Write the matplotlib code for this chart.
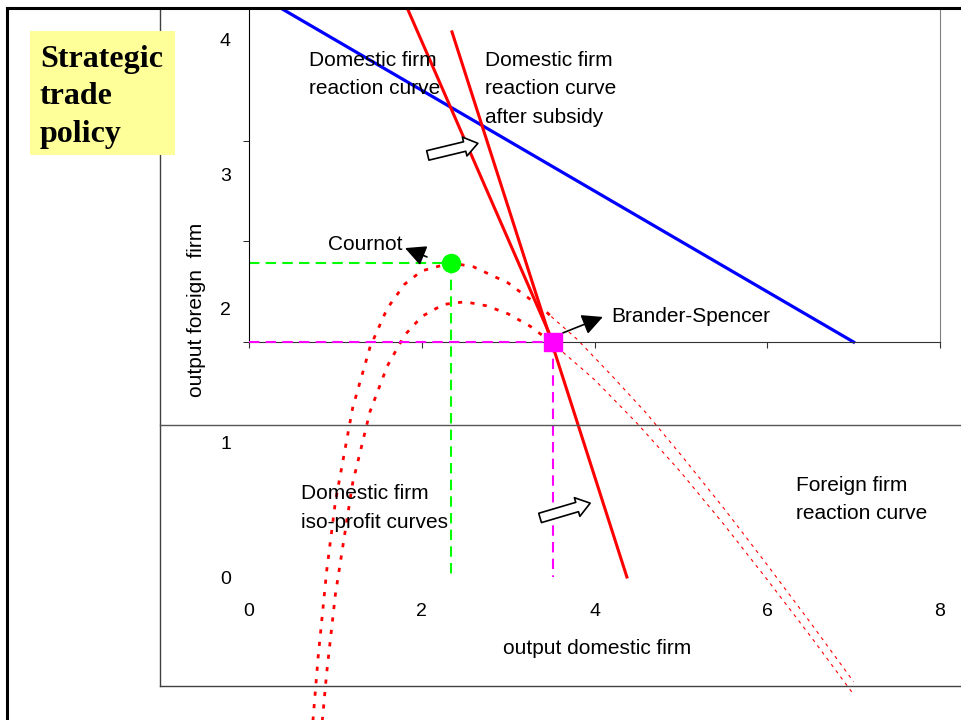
import matplotlib
matplotlib.use("Agg")
import matplotlib.pyplot as plt
from matplotlib.lines import Line2D
from matplotlib.patches import Rectangle, FancyArrowPatch, ArrowStyle

plt.rcParams['font.family'] = ['Liberation Sans', 'DejaVu Sans']

# reaction curves (output domestic firm, output foreign firm)
domestic_x = [1.83, 3.52]
domestic_y = [4.24, 1.75]
subsidy_x = [2.35, 4.375]
subsidy_y = [4.06, 0.0]
foreign_x = [0.36, 7.0]
foreign_y = [4.24, 1.75]

# equilibria
cournot_x, cournot_y = 2.34, 2.34
brander_x, brander_y = 3.52, 1.75

# domestic iso-profit curves
iso1_x = [0.74, 0.8, 0.9, 1.0, 1.2, 1.4, 1.6, 1.8, 2.0, 2.34, 2.6, 3.0, 3.4, 3.5]
iso1_y = [-1.07, -0.6, 0.05, 0.56, 1.26, 1.71, 2.0, 2.18, 2.28, 2.34, 2.31, 2.19, 2.0, 1.94]
iso1_tail_x = [3.5, 3.8, 4.2, 4.6, 5.0, 5.5, 6.0, 6.5, 7.0]
iso1_tail_y = [1.94, 1.77, 1.50, 1.22, 0.91, 0.51, 0.09, -0.34, -0.78]
iso2_x = [0.84, 0.9, 1.0, 1.2, 1.4, 1.6, 1.8, 2.0, 2.25, 2.5, 2.75, 3.0, 3.25, 3.5]
iso2_y = [-1.13, -0.71, -0.13, 0.70, 1.23, 1.57, 1.80, 1.94, 2.03, 2.05, 2.02, 1.96, 1.87, 1.75]
iso2_tail_x = [3.5, 4.0, 4.5, 5.0, 5.5, 6.0, 6.5, 7.0]
iso2_tail_y = [1.75, 1.47, 1.14, 0.78, 0.39, -0.02, -0.44, -0.875]

x_ticks = [0, 2, 4, 6, 8]
y_ticks = [0, 1, 2, 3, 4]
y_marks = [1.75, 2.5, 3.25, 4.0]

W, H = 961, 720
fig = plt.figure(figsize=(W / 100, H / 100), dpi=100)

# slide frame lines
def fline(xs, ys, **kw):
    fig.add_artist(Line2D([x / W for x in xs], [1 - y / H for y in ys],
                          transform=fig.transFigure, **kw))

fline([160, 160], [8, 686], color='#404040', lw=1, zorder=1)
fline([160, 961], [425, 425], color='#555555', lw=1, zorder=1)
fline([160, 961], [686, 686], color='#404040', lw=1, zorder=1)
fline([7, 7], [8, 720], color='black', lw=2.2, zorder=5)
fline([7, 961], [8, 8], color='black', lw=2.2, zorder=5)

fig.add_artist(Rectangle((30 / W, 1 - 155 / H), 145 / W, 124 / H,
                         transform=fig.transFigure, facecolor='#FFFF99',
                         edgecolor='none', zorder=3))
fig.text(40 / W, 1 - 45 / H, 'Strategic\ntrade\npolicy', family='Liberation Serif',
         weight='bold', fontsize=23, linespacing=1.38, ha='left', va='top', zorder=4)

ax = fig.add_axes([249 / W, 0, 691 / W, 712 / H])
ax.set_xlim(0, 8)
ax.set_ylim(-1.065, 4.238)
ax.patch.set_visible(False)

ax.spines['top'].set_visible(False)
ax.spines['bottom'].set_position(('data', 1.75))
ax.spines['bottom'].set_bounds(0, 8)
ax.spines['bottom'].set_color('#333333')
ax.spines['left'].set_bounds(1.75, 4.238)
ax.spines['right'].set_bounds(1.75, 4.238)
ax.spines['right'].set_color('#808080')

ax.set_xticks(x_ticks)
ax.tick_params(axis='x', direction='out', length=4, pad=184, labelsize=14, color='#333333')
ax.set_yticks(y_ticks)
ax.tick_params(axis='y', which='major', length=0, pad=13, labelsize=14)
ax.set_yticks(y_marks, minor=True)
ax.tick_params(axis='y', which='minor', direction='out', length=4)

# dashed guides
ax.plot([0, cournot_x], [cournot_y, cournot_y], color='#00FF00', lw=1.5, dashes=(5, 3))
ax.plot([cournot_x, cournot_x], [cournot_y, 0], color='#00FF00', lw=1.5, dashes=(5, 3))
ax.plot([0, brander_x], [brander_y, brander_y], color='#FF00FF', lw=1.5, dashes=(5, 3), zorder=3)
ax.plot([brander_x, brander_x], [brander_y, 0], color='#FF00FF', lw=1.5, dashes=(5, 3))

# iso-profit curves
ax.plot(iso1_x, iso1_y, color='red', lw=2, dashes=(1.5, 3))
ax.plot(iso2_x, iso2_y, color='red', lw=2, dashes=(1.5, 3))
ax.plot(iso1_tail_x, iso1_tail_y, color='red', lw=0.8, dashes=(3, 4))
ax.plot(iso2_tail_x, iso2_tail_y, color='red', lw=0.8, dashes=(3, 4))

# reaction curves
ax.plot(foreign_x, foreign_y, color='#0000FF', lw=2.3)
ax.plot(domestic_x, domestic_y, color='red', lw=2.2)
ax.plot(subsidy_x, subsidy_y, color='red', lw=2.2, clip_on=False)

ax.plot(cournot_x, cournot_y, 'o', color='#00FF00', ms=13, zorder=6)
ax.plot(brander_x, brander_y, 's', color='#FF00FF', ms=13, zorder=6)

# labels
fs = 15
ls = 1.64
ax.text(0.694, 3.92, 'Domestic firm\nreaction curve', fontsize=fs, va='top', linespacing=ls)
ax.text(2.73, 3.92, 'Domestic firm\nreaction curve\nafter subsidy', fontsize=fs, va='top',
        linespacing=ls)
ax.text(0.60, 0.69, 'Domestic firm\niso-profit curves', fontsize=fs, va='top', linespacing=ls)
ax.text(6.33, 0.755, 'Foreign firm\nreaction curve', fontsize=fs, va='top', linespacing=ls)
ax.text(0.914, 2.48, 'Cournot', fontsize=fs, va='center')
ax.text(4.19, 1.944, 'Brander-Spencer', fontsize=fs, va='center')

head = ArrowStyle('-|>', head_length=0.7, head_width=0.35)
ax.annotate('', xy=(1.806, 2.45), xytext=(2.06, 2.384),
            arrowprops=dict(arrowstyle=head, color='black', lw=1.2, mutation_scale=18,
                            shrinkA=0, shrinkB=0))
ax.annotate('', xy=(4.097, 1.937), xytext=(3.634, 1.818),
            arrowprops=dict(arrowstyle=head, color='black', lw=1.2, mutation_scale=18,
                            shrinkA=0, shrinkB=0))

block = ArrowStyle('simple', head_length=0.7, head_width=1.0, tail_width=0.5)
for (x0, y0), (x1, y1) in [((2.07, 3.14), (2.65, 3.23)), ((3.37, 0.44), (3.95, 0.55))]:
    ax.add_patch(FancyArrowPatch((x0, y0), (x1, y1), arrowstyle=block, mutation_scale=14,
                                 facecolor='white', edgecolor='black', lw=1.2,
                                 shrinkA=0, shrinkB=0, clip_on=False, zorder=7))

fig.text(197 / W, 1 - 310 / H, 'output foreign  firm', rotation=90, fontsize=fs,
         ha='center', va='center')
fig.text(597 / W, 1 - 649 / H, 'output domestic firm', fontsize=fs, ha='center', va='center')

fig.savefig('out.png', dpi=100)
